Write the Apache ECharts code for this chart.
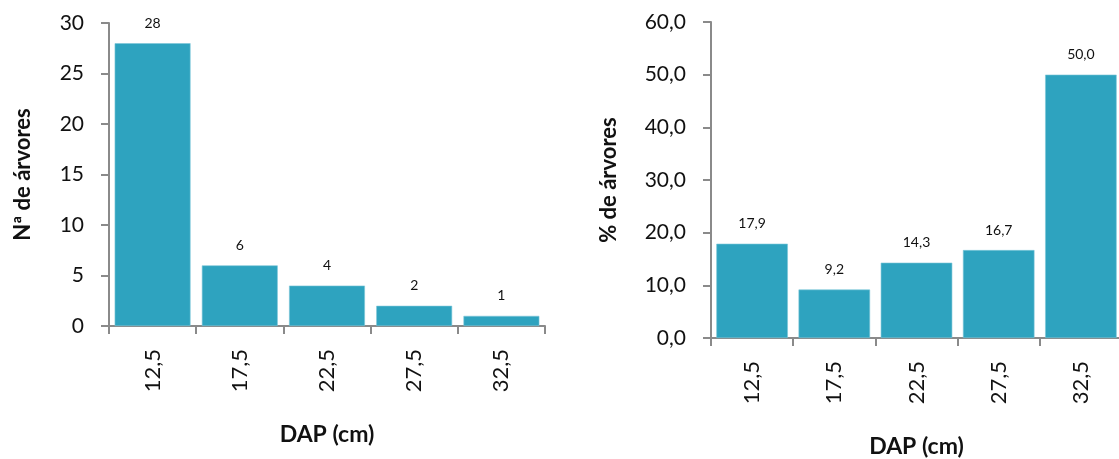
<!DOCTYPE html>
<html>
<head>
<meta charset="utf-8">
<script src="https://cdn.jsdelivr.net/npm/echarts@6/dist/echarts.min.js"></script>
<style>
html,body{margin:0;padding:0;background:#fff;}
#chart{width:1119px;height:459px;}
</style>
</head>
<body>
<div id="chart"></div>
<script>
const categories = ['12,5', '17,5', '22,5', '27,5', '32,5'];
const countValues = [28, 6, 4, 2, 1];
const percentValues = [17.9, 9.2, 14.3, 16.7, 50.0];
const countTicks = { min: 0, max: 30, interval: 5 };
const percentTicks = { min: 0, max: 60, interval: 10 };

const FONT = 'Lato, "Open Sans", sans-serif';
const BAR = '#2ea3bf';
const AXIS = '#8a8a8a';
const fmt1 = v => Number(v).toFixed(1).replace('.', ',');

const chart = echarts.init(document.getElementById('chart'), null, { renderer: 'canvas' });

function xAxisCfg(idx, margin, gap, fs) {
  return {
    type: 'category', gridIndex: idx, data: categories,
    name: 'DAP (cm)', nameLocation: 'middle', nameGap: gap,
    nameTextStyle: { fontFamily: FONT, fontWeight: 'bold', fontSize: 23, color: '#111' },
    axisLine: { lineStyle: { color: AXIS, width: 2 } },
    axisTick: { show: true, length: 8, alignWithLabel: false, lineStyle: { color: AXIS, width: 2 } },
    axisLabel: { rotate: 90, margin: margin, fontFamily: FONT, fontSize: fs, color: '#111' },
    splitLine: { show: false }
  };
}
function yAxisCfg(idx, ticks, name, gap, fs, formatter) {
  return {
    type: 'value', gridIndex: idx, min: ticks.min, max: ticks.max, interval: ticks.interval,
    name: name, nameLocation: 'middle', nameGap: gap, nameRotate: 90,
    nameTextStyle: { fontFamily: FONT, fontWeight: 'bold', fontSize: 22, color: '#111' },
    axisLine: { show: true, lineStyle: { color: AXIS, width: 2 } },
    axisTick: { show: true, length: 8, lineStyle: { color: AXIS, width: 2 } },
    axisLabel: { margin: 25, fontFamily: FONT, fontSize: fs, color: '#111', formatter: formatter },
    splitLine: { show: false }
  };
}
function barSeries(idx, values, formatter) {
  return {
    type: 'bar', xAxisIndex: idx, yAxisIndex: idx, data: values,
    barCategoryGap: '13%',
    itemStyle: { color: BAR, borderColor: '#7cc6d8', borderWidth: 0.6 },
    label: { show: true, position: 'top', distance: 13, fontFamily: FONT, fontSize: 14, color: '#111', formatter: p => formatter(p.value) },
    animation: false
  };
}

chart.setOption({
  animation: false,
  grid: [
    { left: 109, top: 23, width: 436, height: 303, outerBoundsMode: 'none', containLabel: false },
    { left: 711, top: 22, width: 411, height: 316, outerBoundsMode: 'none', containLabel: false }
  ],
  xAxis: [ xAxisCfg(0, 23, 97, 22), xAxisCfg(1, 23, 97, 22) ],
  yAxis: [
    yAxisCfg(0, countTicks, 'Nª de árvores', 75, 21, v => String(v)),
    yAxisCfg(1, percentTicks, '% de árvores', 91, 21, fmt1)
  ],
  series: [
    barSeries(0, countValues, v => String(v)),
    barSeries(1, percentValues, fmt1)
  ]
});
</script>
</body>
</html>
